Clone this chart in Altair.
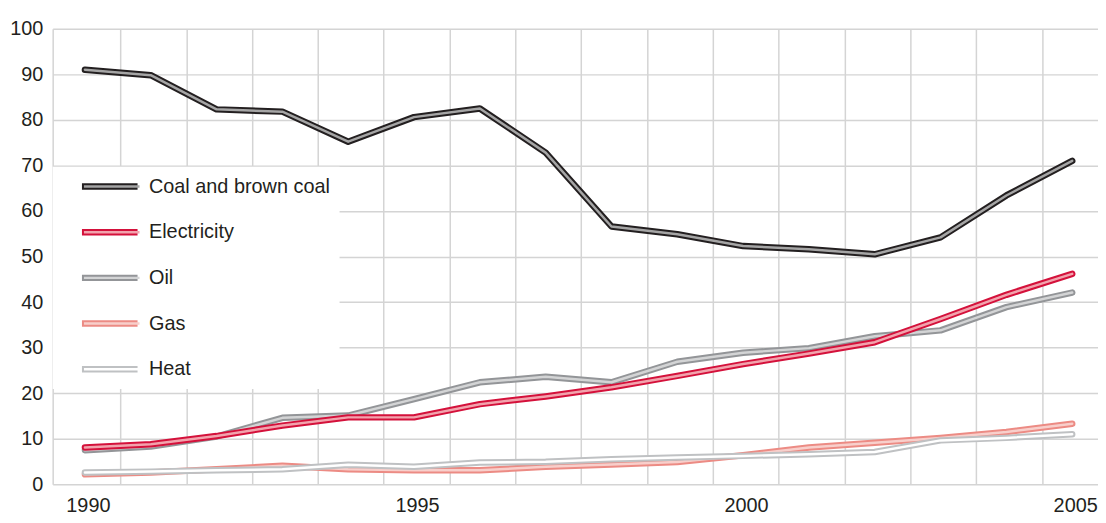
import altair as alt
import pandas as pd

# ---- data ----
years = list(range(1990, 2006))
series = ["Coal and brown coal", "Electricity", "Oil", "Gas", "Heat"]
coal = [91.0, 89.8, 82.3, 81.8, 75.2, 80.6, 82.5, 72.8, 56.6, 54.9, 52.3, 51.6, 50.5, 54.2, 63.4, 71.0]
electricity = [8.1, 8.8, 10.6, 12.9, 14.7, 14.7, 17.6, 19.3, 21.3, 23.8, 26.4, 28.7, 31.2, 36.3, 41.6, 46.2]
oil = [7.5, 8.3, 10.5, 14.6, 15.1, 18.7, 22.4, 23.6, 22.4, 26.9, 28.9, 29.9, 32.5, 33.8, 38.9, 42.1]
gas = [2.2, 2.6, 3.3, 4.1, 3.3, 3.1, 3.1, 3.85, 4.35, 4.9, 6.4, 8.1, 9.15, 10.2, 11.5, 13.3]
heat = [2.6, 2.8, 3.1, 3.3, 4.3, 3.85, 4.8, 4.95, 5.5, 5.9, 6.25, 6.6, 7.1, 9.65, 10.2, 11.0]
x_labels = [1990, 1995, 2000, 2005]
y_ticks = list(range(0, 101, 10))

outer_colors = ["#231f20", "#d4113b", "#939598", "#ec8b84", "#bfc1c3"]
inner_colors = ["#a5a5a5", "#f2a3ad", "#d3d4d5", "#f8cfcb", "#ffffff"]

rows = []
for name, vals in zip(series, [coal, electricity, oil, gas, heat]):
    for yr, v in zip(years, vals):
        rows.append({"year": yr, "series": name, "value": v})
df = pd.DataFrame(rows)

FONT = "Liberation Sans, Arial, sans-serif"
TEXT = "#231f20"
GRID = "#d4d4d4"
FS = 20

x_scale = alt.Scale(domain=[1989.51, 2005.392], nice=False, zero=False)
y_scale = alt.Scale(domain=[0, 100], nice=False, zero=True)

grid_axis = alt.Axis(values=[y + 0.54 for y in years[:-1]], labels=False, ticks=False,
                     domain=False, grid=True, gridColor=GRID, gridWidth=1.5,
                     title=None, orient="bottom")
label_axis = alt.Axis(values=x_labels, grid=False, ticks=False, domain=False,
                      labelFont=FONT, labelFontSize=FS, labelColor=TEXT, labelPadding=11,
                      labelOffset=3, labelFlush=False, format="d", title=None,
                      orient="bottom")
y_axis = alt.Axis(values=y_ticks, grid=True, gridColor=GRID, gridWidth=1.5,
                  domain=True, domainColor=GRID, domainWidth=1.5, ticks=False,
                  labelFont=FONT, labelFontSize=FS, labelColor=TEXT, labelPadding=10,
                  title=None)

common = dict(orient="none", legendX=0, legendY=139, direction="vertical", title=None,
              padding=9, values=series, symbolType="stroke", symbolSize=3136,
              clipHeight=22, rowPadding=24, labelFont=FONT, labelFontSize=FS,
              labelColor=TEXT, labelLimit=400, labelOffset=8)
outer_legend = alt.Legend(fillColor="white", symbolStrokeWidth=6.5, symbolOffset=17,
                          zindex=1, **common)
inner_legend = alt.Legend(symbolStrokeWidth=2.5, symbolOffset=21, labelOpacity=0,
                          zindex=2, **common)

outer_scale = alt.Scale(domain=series, range=outer_colors)
inner_scale = alt.Scale(domain=list(reversed(series)), range=list(reversed(inner_colors)))

base = alt.Chart(df)
draw_order = ["Gas", "Heat", "Oil", "Electricity", "Coal and brown coal"]
layers = []
for i, name in enumerate(draw_order):
    filt = alt.datum.series == name
    outer = base.mark_line(strokeWidth=6.5, strokeCap="round", strokeJoin="round").encode(
        x=alt.X("year:Q", scale=x_scale, axis=grid_axis if i == 0 else None),
        y=alt.Y("value:Q", scale=y_scale, axis=y_axis),
        stroke=alt.Stroke("series:N", scale=outer_scale, legend=outer_legend),
    ).transform_filter(filt)
    inner = base.mark_line(strokeWidth=2.5, strokeCap="round", strokeJoin="round").encode(
        x=alt.X("year:Q", scale=x_scale, axis=label_axis if i == 0 else None),
        y=alt.Y("value:Q", scale=y_scale, axis=y_axis),
        color=alt.Color("series:N", scale=inner_scale, legend=inner_legend),
    ).transform_filter(filt)
    layers += [outer, inner]

chart = alt.layer(*layers).resolve_axis(x="independent").properties(
    width=1053, height=459,
    autosize=alt.AutoSizeParams(type="none"),
    padding={"left": 45, "top": 19, "right": 0, "bottom": 29},
    background="white",
).configure_view(stroke=None)

chart.save("out.html", embed_options={"renderer": "svg", "actions": False})
